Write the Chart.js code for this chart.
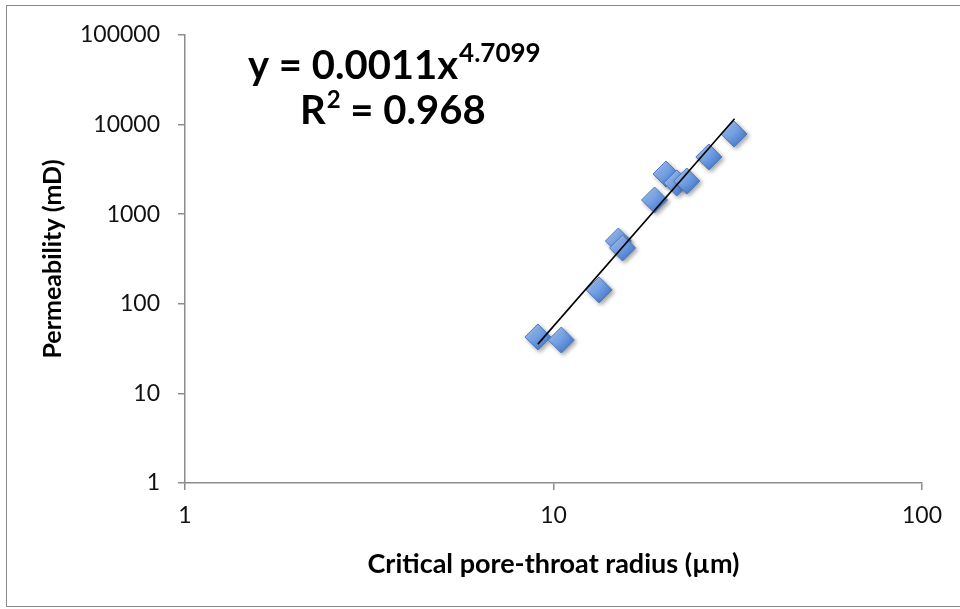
<!DOCTYPE html>
<html>
<head>
<meta charset="utf-8">
<script src="https://cdn.jsdelivr.net/npm/chart.js@4.4.1/dist/chart.umd.min.js"></script>
<style>
  html, body { margin: 0; padding: 0; background: #fff; }
  #wrap { position: relative; width: 960px; height: 609px; }
  #frame { position: absolute; left: 6px; top: 5px; width: 970px; height: 600px; border: 1px solid #8a8a8a; }
  canvas { position: absolute; left: 0; top: 0; }
</style>
</head>
<body>
<div id="wrap">
  <div id="frame"></div>
  <canvas id="poreChart" width="960" height="609"></canvas>
</div>
<script>
// values
const radius = [9.07, 10.5, 13.3, 15.0, 15.4, 18.8, 20.2, 21.6, 23.0, 26.4, 30.9];
const permeability = [42.6, 39.4, 143, 502, 420, 1440, 2810, 2230, 2345, 4350, 7860];
// power trend line ends (y = 0.0011x^4.7099)
const trendX = [9.07, 31.0];
const trendY = [35.5, 11600];
const xTicks = [1, 10, 100];
const yTicks = [1, 10, 100, 1000, 10000, 100000];
const xTitle = 'Critical pore-throat radius (µm)';
const yTitle = 'Permeability (mD)';

const FONT = 'Lato, "Open Sans", sans-serif';

const points = radius.map((r, i) => ({ x: r, y: permeability[i] }));
const trend = trendX.map((t, i) => ({ x: t, y: trendY[i] }));

function diamondFill(c) {
    const chart = c.chart;
    if (!chart.chartArea || !c.raw) return '#6b9be0';
    const px = chart.scales.x.getPixelForValue(c.raw.x);
    const py = chart.scales.y.getPixelForValue(c.raw.y);
    const g = chart.ctx.createLinearGradient(px - 9, py - 9, px + 9, py + 9);
    g.addColorStop(0, '#a3c3f2');
    g.addColorStop(0.5, '#6f9de3');
    g.addColorStop(1, '#4677c9');
    return g;
}

// shadow under the diamonds, like the office chart
const shadowPlugin = {
    id: 'shadow',
    beforeDatasetDraw(chart, args) {
        if (args.index !== 1) return;
        const ctx = chart.ctx;
        ctx.save();
        ctx.shadowColor = 'rgba(0,0,0,0.35)';
        ctx.shadowBlur = 4;
        ctx.shadowOffsetX = 2;
        ctx.shadowOffsetY = 2;
    },
    afterDatasetDraw(chart, args) {
        if (args.index !== 1) return;
        chart.ctx.restore();
    }
};

// axis titles and the fit equation
const textPlugin = {
    id: 'texts',
    afterDraw(chart) {
        const ctx = chart.ctx;
        const a = chart.chartArea;
        ctx.save();
        ctx.fillStyle = '#000';
        ctx.textBaseline = 'alphabetic';

        // x title
        ctx.font = 'bold 27px ' + FONT;
        ctx.textAlign = 'center';
        ctx.fillText(xTitle, (a.left + a.right) / 2, 573);

        // y title
        ctx.save();
        ctx.translate(61, (a.top + a.bottom) / 2);
        ctx.rotate(-Math.PI / 2);
        ctx.font = 'bold 25px ' + FONT;
        ctx.fillText(yTitle, 0, 0);
        ctx.restore();

        // equation
        ctx.textAlign = 'left';
        let x = a.left + 63;
        ctx.font = 'bold 40px ' + FONT;
        const eq = 'y = 0.0011x';
        ctx.fillText(eq, x, 79);
        x += ctx.measureText(eq).width + 1;
        ctx.font = 'bold 26px ' + FONT;
        ctx.fillText('4.7099', x, 62);

        x = a.left + 115;
        ctx.font = 'bold 40px ' + FONT;
        ctx.fillText('R', x, 124);
        x += ctx.measureText('R').width + 1;
        ctx.font = 'bold 24px ' + FONT;
        ctx.fillText('2', x, 108);
        x += ctx.measureText('2').width;
        ctx.font = 'bold 40px ' + FONT;
        ctx.fillText(' = 0.968', x, 124);
        ctx.restore();
    }
};

const ctx = document.getElementById('poreChart').getContext('2d');
const chart = new Chart(ctx, {
    type: 'scatter',
    data: {
        datasets: [{
            type: 'line',
            label: 'Power trend',
            data: trend,
            borderColor: '#000',
            borderWidth: 1.6,
            pointRadius: 0,
            fill: false,
            tension: 0
        }, {
            label: 'Samples',
            data: points,
            pointStyle: 'rectRot',
            pointRadius: 13,
            pointHoverRadius: 13,
            pointBackgroundColor: diamondFill,
            pointBorderColor: '#4a78c2',
            pointBorderWidth: 1
        }]
    },
    options: {
        responsive: false,
        animation: false,
        layout: {
            padding: { left: 0, right: 38, top: 35, bottom: 0 }
        },
        plugins: {
            legend: { display: false },
            tooltip: { enabled: false }
        },
        scales: {
            x: {
                type: 'logarithmic',
                min: 1,
                max: 100,
                afterBuildTicks: (s) => { s.ticks = xTicks.map(v => ({ value: v })); },
                afterFit: (s) => { s.height = 126; },
                grid: {
                    drawOnChartArea: false,
                    drawTicks: true,
                    tickLength: 7,
                    color: '#8c8c8c',
                    lineWidth: 1.5
                },
                border: { display: true, color: '#8c8c8c', width: 1.5 },
                ticks: {
                    padding: 12,
                    color: '#111',
                    font: { family: FONT, size: 23 },
                    maxRotation: 0,
                    callback: (v) => String(v)
                }
            },
            y: {
                type: 'logarithmic',
                min: 1,
                max: 100000,
                afterBuildTicks: (s) => { s.ticks = yTicks.map(v => ({ value: v })); },
                afterFit: (s) => { s.width = 185; },
                grid: {
                    drawOnChartArea: false,
                    drawTicks: true,
                    tickLength: 7,
                    color: '#8c8c8c',
                    lineWidth: 1.5
                },
                border: { display: true, color: '#8c8c8c', width: 1.5 },
                ticks: {
                    padding: 18,
                    color: '#111',
                    font: { family: FONT, size: 23 },
                    callback: (v) => String(v)
                }
            }
        }
    },
    plugins: [shadowPlugin, textPlugin]
});
</script>
</body>
</html>
